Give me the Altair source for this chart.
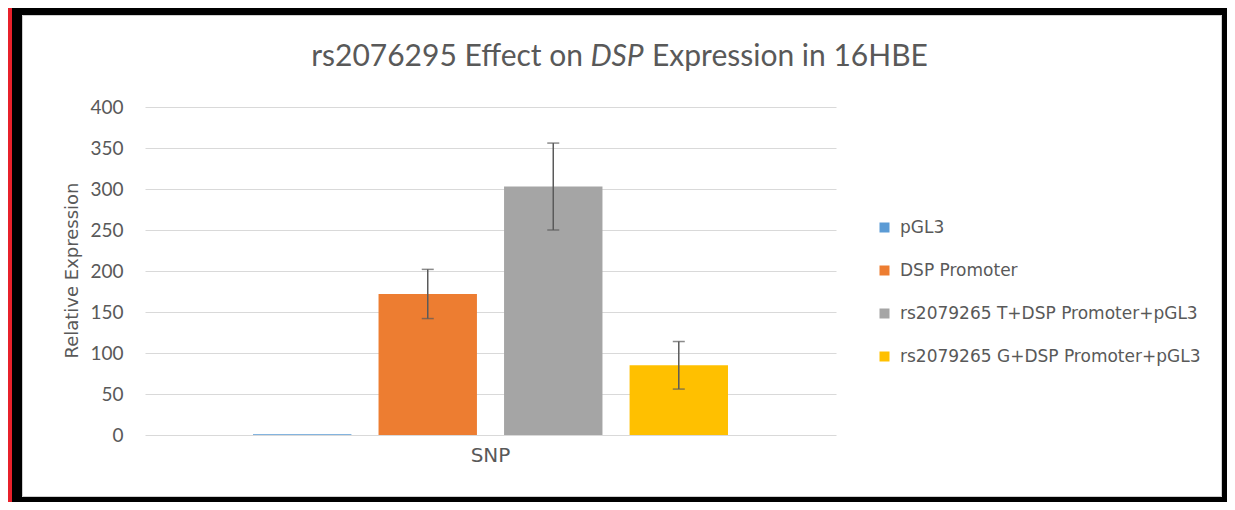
import altair as alt
import pandas as pd

# ---- data ----
series = ["pGL3", "DSP Promoter", "rs2079265 T+DSP Promoter+pGL3", "rs2079265 G+DSP Promoter+pGL3"]
values = [1, 172, 303, 85]
errors = [0, 30, 53, 29]
colors = ["#5b9bd5", "#ed7d31", "#a5a5a5", "#ffc000"]
group = "SNP"
y_ticks = [0, 50, 100, 150, 200, 250, 300, 350, 400]

df = pd.DataFrame({
    "group": [group] * len(series),
    "series": series,
    "value": values,
    "err": errors,
    "lo": [v - e for v, e in zip(values, errors)],
    "hi": [v + e for v, e in zip(values, errors)],
})

W, H = 691, 328
PL, PT = 137, 99
TOTAL_W, TOTAL_H = 1219, 494

label_grey = "#595959"

x_enc = alt.X(
    "group:N",
    title=None,
    scale=alt.Scale(paddingOuter=0.2274, paddingInner=0),
    axis=alt.Axis(labelAngle=0, labelFont="DejaVu Sans", labelFontSize=20,
                  labelColor=label_grey, labelPadding=10, ticks=False, domain=False),
)
xoff_enc = alt.XOffset("series:N", sort=series,
                       scale=alt.Scale(paddingInner=0.216, paddingOuter=0))
y_scale = alt.Scale(domain=[0, 400], nice=False)

one = pd.DataFrame({"k": [1]})


def strip(x0, x1, y0, y1, col):
    return alt.Chart(one).mark_rect(fill=col).encode(
        x=alt.value(x0 - PL), x2=alt.value(x1 - PL),
        y=alt.value(y0 - PT), y2=alt.value(y1 - PT),
    )


# decorative frame: black border with a red outer edge on the left
frame = [
    strip(0, 14, 0, TOTAL_H, "black"),          # left
    strip(0, TOTAL_W, 0, 7, "black"),           # top
    strip(1214, TOTAL_W, 0, TOTAL_H, "black"),  # right
    strip(0, TOTAL_W, 489, TOTAL_H, "black"),   # bottom
    strip(0, 4, 0, TOTAL_H, "#e8212b"),         # red edge
]
inner_line = alt.Chart(one).mark_rect(fill=None, stroke="#cfcfcf", strokeWidth=1).encode(
    x=alt.value(14.5 - PL), x2=alt.value(1213.5 - PL),
    y=alt.value(7.5 - PT), y2=alt.value(488.5 - PT),
)

bars = alt.Chart(df).mark_bar().encode(
    x=x_enc,
    xOffset=xoff_enc,
    y=alt.Y("value:Q", scale=y_scale, title="Relative Expression",
            axis=alt.Axis(values=y_ticks, domain=False, ticks=False, tickSize=0,
                          gridColor="#d9d9d9", gridWidth=1,
                          labelFont="Lato", labelFontSize=19, labelColor=label_grey,
                          labelPadding=22,
                          titleFont="DejaVu Sans", titleFontSize=18, titleFontWeight="normal",
                          titleColor=label_grey, titleAngle=-90, titleX=-68, titleY=163,
                          titleAlign="center", titleBaseline="alphabetic")),
    color=alt.Color("series:N", sort=series,
                    scale=alt.Scale(domain=series, range=colors),
                    legend=alt.Legend(title=None, orient="none", legendX=731, legendY=112,
                                      symbolType="square", symbolSize=100, symbolStrokeWidth=0,
                                      labelFont="DejaVu Sans", labelFontSize=17,
                                      labelColor=label_grey, labelOffset=7, labelLimit=500,
                                      rowPadding=25, padding=0)),
)

err_base = alt.Chart(df).transform_filter("datum.err > 0")
err_rule = err_base.mark_rule(color="#5a5a5a", strokeWidth=1.5).encode(
    x=alt.X("group:N"), xOffset=alt.XOffset("series:N", sort=series),
    y=alt.Y("lo:Q", scale=y_scale), y2="hi:Q",
)
cap_hi = err_base.mark_tick(color="#5a5a5a", orient="horizontal", size=12, thickness=1.5).encode(
    x=alt.X("group:N"), xOffset=alt.XOffset("series:N", sort=series),
    y=alt.Y("hi:Q", scale=y_scale),
)
cap_lo = err_base.mark_tick(color="#5a5a5a", orient="horizontal", size=12, thickness=1.5).encode(
    x=alt.X("group:N"), xOffset=alt.XOffset("series:N", sort=series),
    y=alt.Y("lo:Q", scale=y_scale),
)

title_font = "Lato"
title_size = 30
t1 = alt.Chart(one).mark_text(text="rs2076295 Effect on", font=title_font, fontSize=title_size,
                              color=label_grey, align="right", baseline="alphabetic").encode(
    x=alt.value(583 - 8 - PL), y=alt.value(66 - 8 - PT))
t2 = alt.Chart(one).mark_text(text="DSP", font=title_font, fontSize=title_size, fontStyle="italic",
                              color=label_grey, align="center", baseline="alphabetic").encode(
    x=alt.value(617 - 8 - PL), y=alt.value(66 - 8 - PT))
t3 = alt.Chart(one).mark_text(text="Expression in 16HBE", font=title_font, fontSize=title_size,
                              color=label_grey, align="left", baseline="alphabetic").encode(
    x=alt.value(652 - 8 - PL), y=alt.value(66 - 8 - PT))

chart = alt.layer(*frame, inner_line, bars, err_rule, cap_hi, cap_lo, t1, t2, t3).resolve_scale(
    y="shared", x="shared"
).properties(
    width=W, height=H,
    padding={"left": PL, "top": PT, "right": TOTAL_W - PL - W, "bottom": TOTAL_H - PT - H},
    autosize=alt.AutoSizeParams(type="none"),
    background="white",
).configure_view(stroke=None)

chart.save("out.html", embed_options={"renderer": "svg", "actions": False})
